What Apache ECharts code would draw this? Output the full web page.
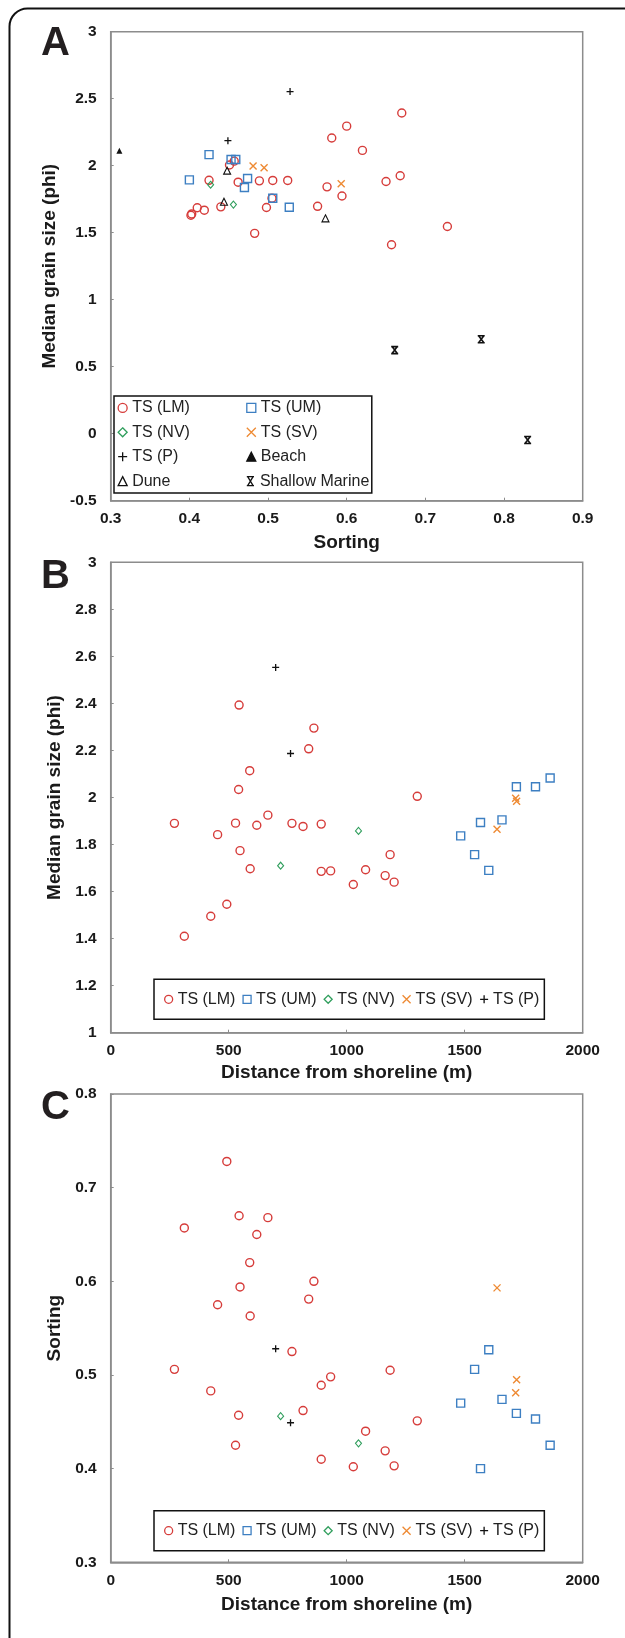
<!DOCTYPE html>
<html>
<head>
<meta charset="utf-8">
<script src="https://cdn.jsdelivr.net/npm/echarts@6/dist/echarts.min.js"></script>
<style>html,body{margin:0;padding:0;background:#fff}#c{width:625px;height:1638px}</style>
</head>
<body>
<div id="c"></div>
<script>
// ---- Data (distance from shoreline m, median grain size phi, sorting) ----
const lmDistance = [270, 312, 424, 453, 492, 529, 542, 544, 548, 589, 591, 619, 666, 768, 815, 839, 861, 892, 892, 932, 1028, 1080, 1163, 1184, 1201, 1299];
const lmMedian   = [1.89, 1.41, 1.495, 1.842, 1.546, 1.891, 2.034, 2.393, 1.774, 2.114, 1.697, 1.882, 1.925, 1.89, 1.877, 2.207, 2.295, 1.887, 1.686, 1.688, 1.63, 1.693, 1.668, 1.757, 1.64, 2.005];
const lmSorting  = [0.506, 0.657, 0.483, 0.575, 0.728, 0.425, 0.457, 0.670, 0.594, 0.620, 0.563, 0.650, 0.668, 0.525, 0.462, 0.581, 0.600, 0.489, 0.410, 0.498, 0.402, 0.440, 0.419, 0.505, 0.403, 0.451];

const umDistance = [1483, 1542, 1567, 1602, 1658, 1719, 1800, 1862];
const umMedian   = [1.837, 1.757, 1.894, 1.690, 1.905, 2.046, 2.046, 2.083];
const umSorting  = [0.470, 0.506, 0.400, 0.527, 0.474, 0.459, 0.453, 0.425];

const nvDistance = [720, 1050];
const nvMedian   = [1.71, 1.858];
const nvSorting  = [0.456, 0.427];

const svDistance = [1637, 1716, 1720];
const svMedian   = [1.865, 1.997, 1.984];
const svSorting  = [0.593, 0.481, 0.495];

const pDistance = [699, 762];
const pMedian   = [2.553, 2.187];
const pSorting  = [0.528, 0.449];

const beachSorting = [0.311];
const beachMedian  = [2.112];
const duneSorting  = [0.448, 0.444, 0.573];
const duneMedian   = [1.963, 1.731, 1.607];
const marineSorting = [0.661, 0.771, 0.830];
const marineMedian  = [0.624, 0.705, -0.047];

const panelLetters = ['A', 'B', 'C'];
const legendNamesA = ['TS (LM)', 'TS (UM)', 'TS (NV)', 'TS (SV)', 'TS (P)', 'Beach', 'Dune', 'Shallow Marine'];
const legendNamesBC = ['TS (LM)', 'TS (UM)', 'TS (NV)', 'TS (SV)', 'TS (P)'];
const rightColumnA = ['TS (UM)', 'TS (SV)', 'Beach', 'Shallow Marine'];

// ---- Styles ----
const FONT = "'Liberation Sans', Arial, Helvetica, sans-serif";
const RED = '#d63c3a', BLUE = '#3d7fc2', GREEN = '#2f9e5c', ORANGE = '#ee8a33', BLACK = '#111';
const CROSS = 'path://M0,0L10,10M10,0L0,10';
const PLUS = 'path://M5,0L5,10M0,5L10,5';
const MARINE = 'path://M1,0L9,0M1,10L9,10M2,0L8,10M8,0L2,10';

const styles = {
  'TS (LM)': {symbol: 'circle', size: 8, color: 'rgba(0,0,0,0)', border: RED, bw: 1.4},
  'TS (UM)': {symbol: 'rect', size: 8, color: 'rgba(0,0,0,0)', border: BLUE, bw: 1.4},
  'TS (NV)': {symbol: 'diamond', size: [6, 7], color: 'rgba(0,0,0,0)', border: GREEN, bw: 1.1},
  'TS (SV)': {symbol: CROSS, size: 7, color: 'rgba(0,0,0,0)', border: ORANGE, bw: 1.4},
  'TS (P)': {symbol: PLUS, size: 7, color: 'rgba(0,0,0,0)', border: BLACK, bw: 1.3},
  'Beach': {symbol: 'triangle', size: 6, color: BLACK, border: BLACK, bw: 0},
  'Dune': {symbol: 'triangle', size: 7, color: 'rgba(0,0,0,0)', border: BLACK, bw: 1.1},
  'Shallow Marine': {symbol: MARINE, size: 7, color: 'rgba(0,0,0,0)', border: BLACK, bw: 1.6}
};

function zip(a, b) { return a.map((v, i) => [v, b[i]]); }
function sc(name, data, idx) {
  const s = styles[name];
  return {
    type: 'scatter', name: name, xAxisIndex: idx, yAxisIndex: idx,
    data: data, symbol: s.symbol, symbolSize: s.size,
    itemStyle: {color: s.color, borderColor: s.border, borderWidth: s.bw, opacity: 1},
    emphasis: {disabled: true}
  };
}

const series = [
  // Panel A: sorting vs median
  sc('TS (LM)', zip(lmSorting, lmMedian), 0),
  sc('TS (UM)', zip(umSorting, umMedian), 0),
  sc('TS (NV)', zip(nvSorting, nvMedian), 0),
  sc('TS (SV)', zip(svSorting, svMedian), 0),
  sc('TS (P)', zip(pSorting, pMedian), 0),
  sc('Beach', zip(beachSorting, beachMedian), 0),
  sc('Dune', zip(duneSorting, duneMedian), 0),
  sc('Shallow Marine', zip(marineSorting, marineMedian), 0),
  // Panel B: distance vs median
  sc('TS (LM)', zip(lmDistance, lmMedian), 1),
  sc('TS (UM)', zip(umDistance, umMedian), 1),
  sc('TS (NV)', zip(nvDistance, nvMedian), 1),
  sc('TS (SV)', zip(svDistance, svMedian), 1),
  sc('TS (P)', zip(pDistance, pMedian), 1),
  // Panel C: distance vs sorting
  sc('TS (LM)', zip(lmDistance, lmSorting), 2),
  sc('TS (UM)', zip(umDistance, umSorting), 2),
  sc('TS (NV)', zip(nvDistance, nvSorting), 2),
  sc('TS (SV)', zip(svDistance, svSorting), 2),
  sc('TS (P)', zip(pDistance, pSorting), 2)
];

const AXC = '#8c8c8c';
const labelStyle = {fontFamily: FONT, fontWeight: 'bold', fontSize: 15.5, color: '#1a1a1a'};
const nameStyle = {fontFamily: FONT, fontWeight: 'bold', fontSize: 19, color: '#1a1a1a'};
const plainNum = function (v) { return String(Math.round(v * 1000) / 1000); };
function xAx(idx, min, max, interval, name, gap) {
  return {
    type: 'value', gridIndex: idx, min: min, max: max, interval: interval,
    name: name, nameLocation: 'middle', nameGap: gap, nameTextStyle: nameStyle,
    axisLine: {show: true, onZero: false, lineStyle: {color: AXC, width: 1.5}},
    axisTick: {show: true, inside: true, length: 3, lineStyle: {color: AXC, width: 1}},
    axisLabel: Object.assign({margin: 10, formatter: plainNum}, labelStyle),
    splitLine: {show: false}
  };
}
function yAx(idx, min, max, interval, name, gap) {
  return {
    type: 'value', gridIndex: idx, min: min, max: max, interval: interval,
    name: name, nameLocation: 'middle', nameGap: gap, nameTextStyle: nameStyle,
    axisLine: {show: true, onZero: false, lineStyle: {color: AXC, width: 1.5}},
    axisTick: {show: true, inside: true, length: 3, lineStyle: {color: AXC, width: 1}},
    axisLabel: Object.assign({margin: 14, formatter: plainNum}, labelStyle),
    splitLine: {show: false}
  };
}
function grid(top, height) {
  return {left: 110.7, top: top, width: 472, height: height, show: true, borderColor: AXC, borderWidth: 1.5, backgroundColor: 'transparent'};
}

const legendText = {fontFamily: FONT, fontSize: 16, color: '#222'};
const clearBg = 'rgba(255,255,255,0.01)';
const option = {
  animation: false,
  backgroundColor: '#fff',
  grid: [grid(31.7, 469), grid(562.3, 470.4), grid(1094, 468.3)],
  xAxis: [
    xAx(0, 0.3, 0.9, 0.1, 'Sorting', 33),
    xAx(1, 0, 2000, 500, 'Distance from shoreline (m)', 31),
    xAx(2, 0, 2000, 500, 'Distance from shoreline (m)', 33)
  ],
  yAxis: [
    yAx(0, -0.5, 3, 0.5, 'Median grain size (phi)', 44),
    yAx(1, 1, 3, 0.2, 'Median grain size (phi)', 44),
    yAx(2, 0.3, 0.8, 0.1, 'Sorting', 44)
  ],
  legend: [
    {
      data: legendNamesA, left: 114, top: 396, width: 252, orient: 'horizontal',
      padding: [3.9, 2.5, 3.9, 3.5], itemGap: 8.4, itemWidth: 9, itemHeight: 9,
      borderColor: '#111', borderWidth: 1.5, backgroundColor: '#fff',
      itemStyle: {borderWidth: 1.3}, selectedMode: false,
      formatter: function (n) { return (rightColumnA.indexOf(n) >= 0 ? '{b|' : '{a|') + n + '}'; },
      textStyle: Object.assign({}, legendText, {
        rich: {
          a: Object.assign({}, legendText, {width: 105.6, height: 16, backgroundColor: clearBg}),
          b: Object.assign({}, legendText, {width: 108, height: 16, backgroundColor: clearBg})
        }
      })
    },
    {
      data: legendNamesBC, left: 154, top: 979.3, orient: 'horizontal',
      padding: [12, 5, 12, 10], itemGap: 7, itemWidth: 8, itemHeight: 8,
      borderColor: '#111', borderWidth: 1.5, backgroundColor: '#fff',
      itemStyle: {borderWidth: 1.3}, selectedMode: false,
      textStyle: Object.assign({lineHeight: 16}, legendText)
    },
    {
      data: legendNamesBC, left: 154, top: 1510.7, orient: 'horizontal',
      padding: [12, 5, 12, 10], itemGap: 7, itemWidth: 8, itemHeight: 8,
      borderColor: '#111', borderWidth: 1.5, backgroundColor: '#fff',
      itemStyle: {borderWidth: 1.3}, selectedMode: false,
      textStyle: Object.assign({lineHeight: 16}, legendText)
    }
  ],
  graphic: [
    {type: 'rect', silent: true, z: -10, shape: {x: 9.5, y: 8.5, width: 640, height: 1700, r: 18},
     style: {fill: 'none', stroke: '#111', lineWidth: 2}},
    {type: 'text', silent: true, x: 41, y: 44, style: {text: panelLetters[0], font: 'bold 40px ' + FONT, fill: '#231f20', verticalAlign: 'middle', align: 'left'}},
    {type: 'text', silent: true, x: 41, y: 577, style: {text: panelLetters[1], font: 'bold 40px ' + FONT, fill: '#231f20', verticalAlign: 'middle', align: 'left'}},
    {type: 'text', silent: true, x: 41, y: 1108, style: {text: panelLetters[2], font: 'bold 40px ' + FONT, fill: '#231f20', verticalAlign: 'middle', align: 'left'}}
  ],
  series: series
};

const chart = echarts.init(document.getElementById('c'), null, {renderer: 'canvas'});
chart.setOption(option);
</script>
</body>
</html>
